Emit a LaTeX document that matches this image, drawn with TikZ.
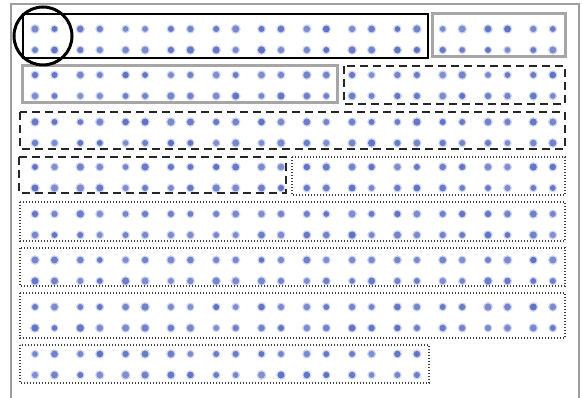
\documentclass[tikz,border=0pt]{standalone}
\begin{document}
\begin{tikzpicture}[x=1pt,y=-1pt,
  frameline/.style={draw=black!38,line width=1.8pt},
  solidbox/.style={draw=black,line width=2.6pt},
  graybox/.style={draw=black!35,line width=3pt},
  dashbox/.style={draw=black!85,line width=2.8pt,dash pattern=on 8pt off 5pt},
  dotbox/.style={draw=black!75,line width=1.8pt,dash pattern=on 1.4pt off 1.6pt},
  ringline/.style={draw=black,line width=3pt},
  halo/.style={fill={rgb,255:red,120;green,138;blue,210},fill opacity=0.35},
  core/.style={fill={rgb,255:red,96;green,114;blue,196}}]
\useasboundingbox (0,0) rectangle (582,398);
\fill[white] (0,0) rectangle (582,398);
% outer frame (open at the bottom)
\draw[frameline] (11,398) -- (11,4) -- (579,4) -- (579,398);
% dots
\pgfmathsetseed{7}
\foreach \r/\n in {29/12,75/12,122/12,167/12,214/12,260/12,307/12,354/9}{
  \foreach \i in {1,...,\n}{
    \foreach \dx in {0,19.5}{
      \foreach \dy in {0,21}{
        \pgfmathsetmacro{\xx}{35+45.3*(\i-1)+\dx}
        \pgfmathsetmacro{\yy}{\r+\dy}
        \pgfmathsetmacro{\rr}{2.8+0.8*rnd}
        \pgfmathsetmacro{\op}{0.7+0.3*rnd}
        \fill[halo] (\xx,\yy) circle[radius=\rr+1.4];
        \fill[core,fill opacity=\op] (\xx,\yy) circle[radius=\rr];
      }
    }
  }
}
% boxes
\draw[solidbox] (23,14) rectangle (428,58);
\draw[graybox] (432,14) rectangle (565,57);
\draw[graybox] (22,66) rectangle (337,103);
\draw[dashbox] (344,66) rectangle (565,104);
\draw[dashbox] (20,112) rectangle (565,149);
\draw[dashbox] (19,157) rectangle (286,193);
\draw[dotbox] (292,157) rectangle (565,195);
\draw[dotbox] (20,202) rectangle (565,241);
\draw[dotbox] (20,248) rectangle (565,286);
\draw[dotbox] (20,293) rectangle (565,338);
\draw[dotbox] (20,345) rectangle (429,383);
% circle
\draw[ringline] (43,36) circle[radius=29];
\end{tikzpicture}
\end{document}
